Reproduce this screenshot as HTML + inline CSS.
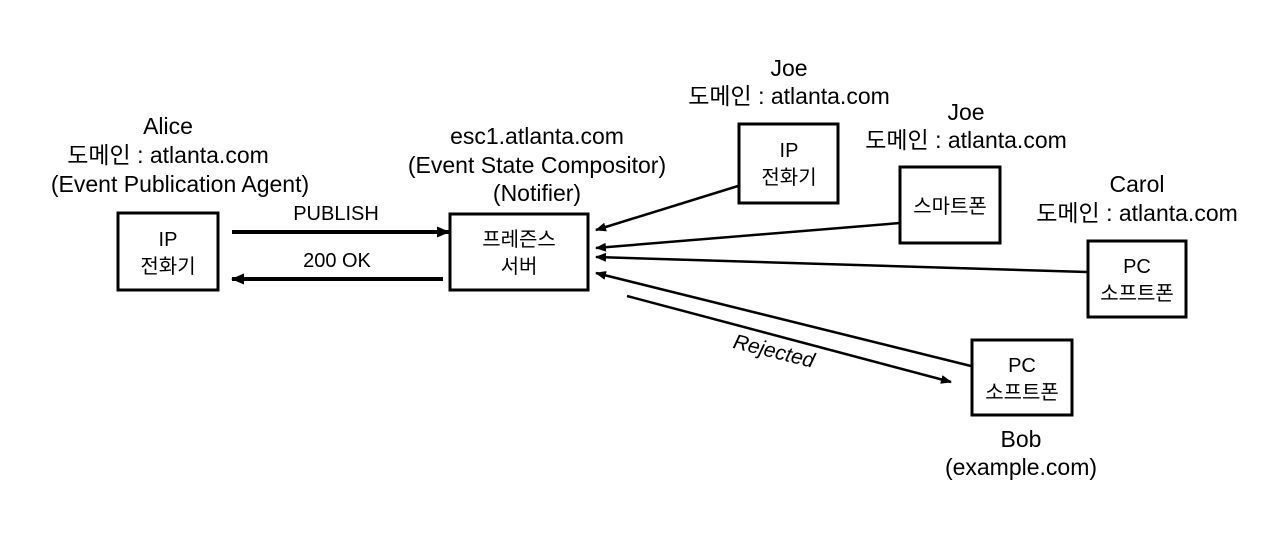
<!DOCTYPE html>
<html><head><meta charset="utf-8"><style>
html,body{margin:0;padding:0;background:#fff;}
svg text{font-family:"Liberation Sans","Noto Sans CJK KR",sans-serif;fill:#000;}
</style></head><body>
<svg width="1280" height="538" viewBox="0 0 1280 538" xmlns="http://www.w3.org/2000/svg">
<defs>
<marker id="a" markerWidth="11" markerHeight="9" refX="10" refY="4.5" orient="auto" markerUnits="userSpaceOnUse" viewBox="0 0 11 9"><path d="M0,0 L11,4.5 L0,9 z" fill="#000"/></marker>
<marker id="b" markerWidth="13" markerHeight="11" refX="12" refY="5.5" orient="auto" markerUnits="userSpaceOnUse" viewBox="0 0 13 11"><path d="M0,0 L13,5.5 L0,11 z" fill="#000"/></marker>
</defs>
<g fill="none" stroke="#000" stroke-width="3">
<rect x="118" y="213" width="100" height="77"/>
<rect x="450" y="214" width="138" height="76"/>
<rect x="739" y="124" width="99" height="79"/>
<rect x="900" y="167" width="100" height="76"/>
<rect x="1088" y="241" width="98" height="76"/>
<rect x="972" y="340" width="100" height="75"/>
</g>
<g stroke="#000" stroke-width="4">
<line x1="232" y1="232" x2="449" y2="232" marker-end="url(#b)"/>
<line x1="443" y1="279" x2="232" y2="279" marker-end="url(#b)"/>
</g>
<g stroke="#000" stroke-width="2.5">
<line x1="738" y1="186" x2="596" y2="230" marker-end="url(#a)"/>
<line x1="900" y1="223" x2="596" y2="248" marker-end="url(#a)"/>
<line x1="1087" y1="272" x2="596" y2="257" marker-end="url(#a)"/>
<line x1="971" y1="366" x2="596" y2="273" marker-end="url(#a)"/>
<line x1="627" y1="296" x2="951" y2="382" marker-end="url(#a)"/>
</g>
<g font-size="23" text-anchor="middle">
<text x="168" y="134">Alice</text>
<text x="168" y="163">도메인 : atlanta.com</text>
<text x="180" y="192">(Event Publication Agent)</text>
<text x="537" y="144">esc1.atlanta.com</text>
<text x="537" y="173">(Event State Compositor)</text>
<text x="537" y="201">(Notifier)</text>
<text x="789" y="76">Joe</text>
<text x="789" y="104">도메인 : atlanta.com</text>
<text x="966" y="120">Joe</text>
<text x="966" y="148">도메인 : atlanta.com</text>
<text x="1137" y="192">Carol</text>
<text x="1137" y="221">도메인 : atlanta.com</text>
<text x="1021" y="447">Bob</text>
<text x="1021" y="475">(example.com)</text>
</g>
<g font-size="20" text-anchor="middle">
<text x="168" y="246">IP</text>
<text x="168" y="273">전화기</text>
<text x="519" y="246">프레즌스</text>
<text x="519" y="273">서버</text>
<text x="789" y="157">IP</text>
<text x="789" y="184">전화기</text>
<text x="950" y="213">스마트폰</text>
<text x="1137" y="273">PC</text>
<text x="1137" y="300">소프트폰</text>
<text x="1022" y="372">PC</text>
<text x="1022" y="399">소프트폰</text>
<text x="336" y="220">PUBLISH</text>
<text x="337" y="267">200 OK</text>
</g>
<text x="774" y="358" font-size="21" font-style="italic" text-anchor="middle" transform="rotate(14 774 351)">Rejected</text>
</svg>
</body></html>
